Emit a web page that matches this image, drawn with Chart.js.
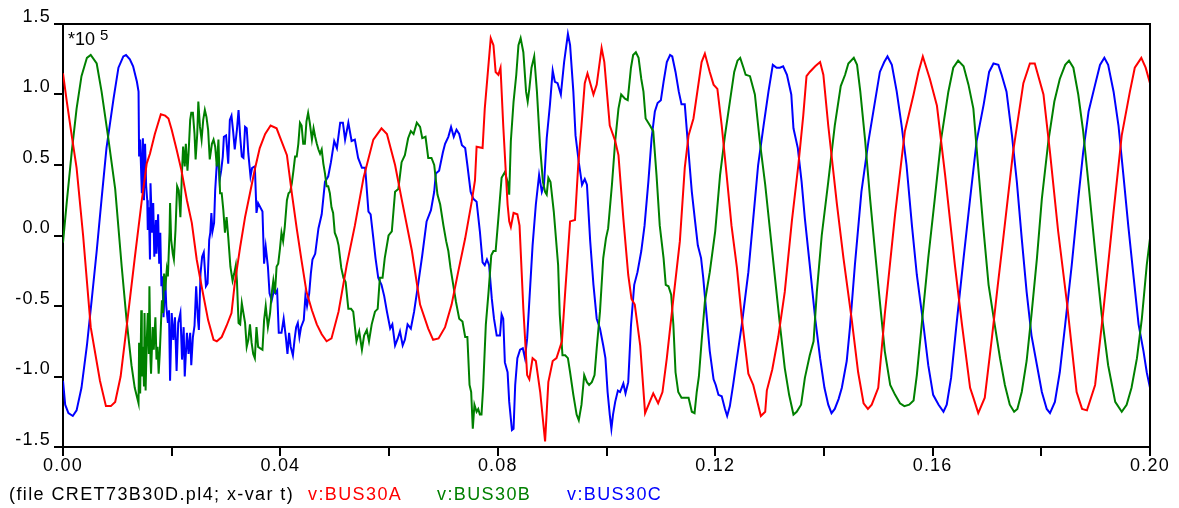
<!DOCTYPE html>
<html>
<head>
<meta charset="utf-8">
<script src="https://cdn.jsdelivr.net/npm/chart.js@4.4.0/dist/chart.umd.min.js"></script>
<style>
  html, body { margin: 0; padding: 0; background: #fff; }
  #wrap { position: relative; width: 1179px; height: 508px; }
  canvas { display: block; }
  .txt { position: absolute; font-family: "Liberation Sans", Arial, sans-serif; font-size: 18px;
         letter-spacing: 1.4px; white-space: nowrap; color: #000; line-height: 21px; }
</style>
</head>
<body>
<div id="wrap">
  <canvas id="plot" width="1179" height="508"></canvas>
  <div class="txt" style="left:68px; top:29px; letter-spacing:0;">*10<span style="position:relative; top:-5px; font-size:15px; margin-left:5px;">5</span></div>
  <div class="txt" style="left:9px; top:484px;">(file CRET73B30D.pl4; x-var t)</div>
  <div class="txt" style="left:308px; top:484px; color:#ff0000;">v:BUS30A</div>
  <div class="txt" style="left:437px; top:484px; color:#008000;">v:BUS30B</div>
  <div class="txt" style="left:567px; top:484px; color:#0000ff;">v:BUS30C</div>
</div>
<script>
// Bus voltages, [time in ms, value in units of 1e5 V]
const busA = [
  [0,1.15],[0.7,0.95],[1.6,0.71],[2.5,0.48],[3.7,0.00],[5.1,-0.65],[6.8,-1.03],[7.9,-1.21],[8.8,-1.21],[9.6,-1.18],
  [10.6,-1.00],[11.7,-0.65],[13.2,-0.16],[14.5,0.25],[15.4,0.51],[16.0,0.58],[16.9,0.72],[18.0,0.86],[18.8,0.85],[19.4,0.83],
  [20.0,0.75],[20.9,0.61],[21.8,0.46],[22.8,0.25],[23.7,0.09],[24.6,-0.17],[25.5,-0.36],[26.7,-0.60],[27.7,-0.74],[28.3,-0.75],
  [29.2,-0.72],[30.1,-0.64],[31.0,-0.55],[31.6,-0.34],[32.6,-0.08],[33.5,0.13],[34.4,0.30],[35.3,0.47],[36.2,0.62],[37.2,0.72],
  [38.2,0.78],[39.3,0.76],[39.9,0.70],[41.2,0.57],[42.1,0.30],[43.0,0.05],[43.9,-0.18],[44.8,-0.40],[45.8,-0.53],[46.7,-0.63],
  [47.6,-0.70],[48.5,-0.75],[49.4,-0.73],[50.7,-0.54],[52.2,-0.21],[53.7,0.07],[55.3,0.41],[57.1,0.68],[58.6,0.76],[59.6,0.72],
  [61.1,0.50],[62.3,0.26],[64.2,-0.11],[65.7,-0.49],[67.2,-0.66],[68.1,-0.74],[69.1,-0.73],[70.3,-0.65],[71.5,-0.49],[72.7,-0.26],
  [74.0,-0.02],[75.2,0.24],[75.8,0.39],[76.1,0.63],[77.2,0.62],[77.6,0.90],[78.7,1.40],[79.2,1.35],[79.6,1.16],[80.1,1.14],
  [80.5,1.19],[81.0,0.78],[81.8,0.22],[82.1,0.10],[82.4,0.06],[82.9,0.16],[83.6,0.15],[84.0,0.07],[84.7,-0.52],[85.4,-0.99],
  [85.8,-1.02],[86.4,-0.87],[87.0,-0.89],[87.8,-1.11],[88.7,-1.46],[89.3,-1.04],[90.1,-0.89],[90.8,-0.87],[91.8,-0.75],[92.4,-0.40],
  [93.3,0.10],[94.2,0.11],[94.8,0.50],[95.4,0.78],[96.0,1.08],[96.5,1.15],[97.6,1.00],[98.2,1.07],[99.1,1.33],[99.6,1.23],
  [100.6,0.78],[101.6,0.67],[102.2,0.57],[103.1,0.12],[104.0,-0.28],[104.6,-0.45],[105.2,-0.49],[106.2,-0.78],[107.1,-1.26],[108.6,-1.12],
  [109.5,-1.19],[110.3,-1.11],[111.1,-0.87],[112.3,-0.45],[113.5,-0.04],[114.4,0.48],[115.1,0.71],[116.0,0.83],[116.9,1.07],[117.5,1.23],
  [118.1,1.29],[119.0,1.16],[119.7,1.07],[120.4,1.04],[121.2,0.78],[122.1,0.43],[123.0,0.07],[124.0,-0.23],[124.9,-0.59],[126.1,-0.98],
  [127.0,-1.06],[128.4,-1.28],[129.2,-1.25],[129.5,-1.10],[130.5,-0.95],[131.6,-0.72],[132.8,-0.40],[134.1,0.10],[135.3,0.50],[136.2,0.85],
  [136.8,1.13],[137.4,1.16],[138.4,1.20],[139.3,1.23],[139.9,1.14],[140.8,0.78],[142.4,0.22],[143.6,-0.16],[145.1,-0.59],[146.3,-0.97],
  [147.3,-1.19],[148.1,-1.23],[148.8,-1.20],[150.0,-1.08],[151.2,-0.56],[153.1,0.15],[154.9,0.74],[156.5,1.00],[157.4,1.16],[158.2,1.27],
  [159.5,1.11],[160.8,0.92],[162.3,0.43],[164.1,-0.21],[165.4,-0.63],[166.9,-1.08],[167.5,-1.15],[168.4,-1.26],[169.6,-1.15],[170.9,-0.73],
  [172.0,-0.35],[173.0,-0.02],[174.8,0.59],[176.7,1.08],[177.9,1.22],[178.8,1.22],[180.4,1.00],[181.6,0.59],[183.1,0.03],[184.7,-0.47],
  [186.5,-1.11],[187.5,-1.23],[188.4,-1.24],[189.9,-1.06],[191.4,-0.54],[193.3,0.17],[194.8,0.71],[196.3,1.02],[197.2,1.19],[198.4,1.26],
  [199.2,1.19],[200.0,1.08]
];

const busB = [
  [0,-0.05],[0.7,0.24],[1.6,0.59],[2.5,0.90],[3.4,1.13],[4.4,1.26],[5.1,1.28],[6.2,1.22],[7.1,1.02],[8.3,0.70],
  [9.6,0.33],[10.8,-0.22],[11.7,-0.60],[12.6,-0.92],[13.2,-1.08],[13.9,-1.19],[14.0,-0.76],[14.2,-1.12],[14.4,-0.53],[14.5,-1.00],
  [14.7,-0.79],[14.9,-1.07],[15.0,-0.55],[15.2,-1.10],[15.4,-0.76],[15.6,-0.55],[15.8,-0.84],[15.9,-0.36],[16.1,-0.88],[16.2,-0.98],
  [16.5,-0.65],[16.7,-0.81],[17.0,-0.58],[17.2,-0.88],[17.4,-0.79],[17.6,-0.98],[17.8,-0.84],[18.0,-0.65],[18.2,-0.46],[18.4,-0.55],
  [18.6,-0.27],[18.8,-0.39],[19.1,-0.24],[19.3,-0.29],[19.6,0.02],[19.7,0.23],[19.9,-0.03],[20.2,-0.13],[20.4,-0.17],[20.7,0.04],
  [21.0,0.35],[21.3,0.32],[21.6,0.13],[21.9,0.46],[22.1,0.63],[22.4,0.49],[22.6,0.65],[22.9,0.46],[23.1,0.58],[23.4,0.82],
  [23.6,0.87],[23.9,0.87],[24.2,0.72],[24.4,0.54],[24.7,0.72],[24.9,0.95],[25.2,0.77],[25.5,0.68],[25.8,0.82],[26.1,0.89],
  [26.4,0.84],[26.7,0.75],[27.0,0.54],[27.4,0.65],[27.7,0.68],[28.0,0.63],[28.3,0.49],[28.6,0.68],[28.9,0.30],[29.2,0.30],
  [29.5,0.18],[29.8,0.02],[30.1,0.13],[30.4,-0.01],[30.8,-0.22],[31.2,-0.32],[31.5,-0.27],[31.8,-0.21],[32.0,-0.32],[32.3,-0.62],
  [32.6,-0.63],[32.9,-0.48],[33.2,-0.55],[33.5,-0.62],[33.8,-0.79],[34.1,-0.74],[34.4,-0.63],[34.7,-0.76],[35.0,-0.84],[35.3,-0.87],
  [35.6,-0.65],[35.9,-0.79],[36.3,-0.80],[36.7,-0.81],[37.0,-0.60],[37.3,-0.50],[37.7,-0.65],[38.1,-0.55],[38.4,-0.41],[38.7,-0.32],
  [39.0,-0.41],[39.3,-0.22],[39.6,-0.20],[39.9,-0.10],[40.2,0.02],[40.5,-0.04],[40.8,0.06],[41.2,0.25],[41.5,0.30],[41.8,0.31],
  [42.1,0.37],[42.4,0.46],[42.7,0.56],[43.0,0.56],[43.3,0.65],[43.6,0.80],[43.9,0.78],[44.2,0.65],[44.5,0.65],[44.8,0.81],
  [45.1,0.87],[45.4,0.80],[45.8,0.68],[46.1,0.76],[46.4,0.70],[46.7,0.65],[47.0,0.61],[47.3,0.58],[47.6,0.61],[47.9,0.51],
  [48.2,0.44],[48.5,0.35],[48.8,0.35],[49.1,0.30],[49.4,0.20],[49.7,0.16],[50.0,0.02],[50.4,-0.02],[50.7,-0.07],[51.2,-0.23],
  [51.6,-0.30],[52.0,-0.33],[52.5,-0.52],[53.0,-0.52],[53.4,-0.54],[54.0,-0.75],[54.5,-0.68],[55.0,-0.81],[55.4,-0.71],[55.9,-0.67],
  [56.3,-0.75],[56.8,-0.63],[57.4,-0.54],[57.9,-0.52],[58.3,-0.30],[58.8,-0.30],[59.2,-0.16],[59.9,0.00],[60.5,0.03],[61.1,0.31],
  [61.7,0.33],[62.3,0.52],[62.9,0.57],[63.5,0.69],[64.0,0.74],[64.5,0.72],[65.1,0.80],[65.7,0.77],[66.1,0.69],[66.7,0.70],
  [67.2,0.55],[67.8,0.55],[68.3,0.50],[68.9,0.29],[69.4,0.22],[70.0,0.07],[70.5,-0.04],[70.9,-0.11],[71.3,-0.23],[71.8,-0.35],
  [72.3,-0.47],[72.9,-0.59],[73.5,-0.61],[74.0,-0.72],[74.4,-0.72],[74.8,-1.06],[75.1,-1.11],[75.4,-1.37],[75.7,-1.20],[76.1,-1.25],
  [76.4,-1.23],[76.7,-1.27],[77.0,-1.27],[77.3,-1.08],[77.8,-0.63],[78.3,-0.40],[78.8,-0.14],[79.2,-0.11],[79.6,-0.11],[80.1,0.12],
  [80.7,0.41],[81.3,0.45],[81.8,0.38],[82.1,0.29],[82.4,0.67],[82.9,0.95],[83.4,1.14],[83.8,1.35],[84.2,1.40],[84.7,1.30],
  [85.2,1.02],[85.5,0.95],[85.8,1.04],[86.2,1.19],[86.7,1.27],[87.2,1.02],[87.8,0.62],[88.3,0.38],[88.7,0.31],[89.0,0.29],
  [89.3,0.41],[89.7,0.38],[90.3,0.17],[91.1,-0.21],[91.4,-0.56],[91.9,-0.85],[92.4,-0.85],[92.9,-0.87],[93.3,-0.97],[93.9,-1.13],
  [94.5,-1.27],[94.9,-1.31],[95.4,-1.20],[95.9,-0.99],[96.4,-1.04],[96.8,-1.06],[97.3,-1.04],[97.8,-0.99],[98.2,-0.80],[98.8,-0.54],
  [99.4,-0.16],[99.9,-0.02],[100.3,0.05],[101.0,0.36],[101.6,0.67],[102.2,0.90],[102.7,1.00],[103.4,0.97],[103.9,0.96],[104.5,1.19],
  [104.9,1.28],[105.4,1.30],[105.9,1.26],[106.4,1.11],[106.8,1.02],[107.2,0.83],[108.0,0.78],[108.6,0.74],[109.2,0.43],[109.8,0.07],
  [110.5,-0.16],[110.9,-0.35],[111.4,-0.36],[111.9,-0.42],[112.3,-0.63],[112.7,-0.97],[113.2,-1.11],[113.8,-1.15],[114.4,-1.15],[115.1,-1.15],
  [115.7,-1.25],[116.2,-1.26],[116.6,-1.11],[117.0,-1.00],[117.5,-0.75],[118.1,-0.47],[119.0,-0.26],[120.0,0.03],[120.9,0.43],[121.8,0.71],
  [122.7,0.95],[123.5,1.16],[124.1,1.24],[124.6,1.26],[125.2,1.19],[125.6,1.14],[126.4,1.13],[127.3,1.00],[128.2,0.67],[129.2,0.36],
  [130.1,0.03],[131.0,-0.30],[131.9,-0.63],[132.8,-0.94],[133.6,-1.13],[134.4,-1.27],[135.0,-1.25],[135.8,-1.20],[136.5,-1.01],[137.4,-0.85],
  [138.1,-0.75],[138.7,-0.40],[139.6,0.00],[140.8,0.38],[142.0,0.78],[143.1,1.06],[143.9,1.14],[144.5,1.22],[145.5,1.26],[146.1,1.21],
  [146.7,1.02],[147.6,0.67],[148.5,0.26],[149.4,-0.11],[150.3,-0.47],[151.2,-0.82],[152.2,-1.06],[153.1,-1.13],[154.0,-1.19],[154.8,-1.21],
  [155.7,-1.20],[156.5,-1.17],[157.1,-0.99],[158.0,-0.63],[159.2,-0.16],[160.4,0.26],[161.6,0.69],[162.9,1.02],[163.8,1.19],[164.7,1.24],
  [165.7,1.20],[166.6,1.07],[167.5,0.90],[168.4,0.48],[169.3,0.07],[170.3,-0.35],[171.5,-0.65],[172.4,-0.87],[173.3,-1.06],[174.2,-1.20],
  [175.0,-1.25],[175.6,-1.23],[176.4,-1.11],[177.3,-0.89],[178.2,-0.56],[179.2,-0.16],[180.1,0.26],[181.3,0.67],[182.4,0.95],[183.4,1.11],
  [184.4,1.21],[185.1,1.24],[185.9,1.19],[186.8,1.00],[187.7,0.74],[188.7,0.36],[189.9,-0.11],[191.1,-0.56],[192.3,-0.92],[193.6,-1.18],
  [194.8,-1.25],[195.7,-1.20],[196.6,-1.08],[197.6,-0.87],[198.5,-0.59],[199.4,-0.21],[200.0,-0.02]
];

const busC = [
  [0,-1.03],[0.4,-1.20],[1.0,-1.26],[1.8,-1.28],[2.5,-1.24],[3.4,-1.08],[4.4,-0.78],[5.3,-0.45],[6.2,-0.11],[7.1,0.26],
  [8.0,0.62],[9.3,0.97],[10.2,1.19],[11.1,1.27],[11.6,1.28],[12.3,1.25],[12.9,1.20],[13.6,1.09],[13.9,1.02],[14.0,0.56],
  [14.2,0.68],[14.5,0.30],[14.7,0.69],[14.9,0.25],[15.1,0.65],[15.3,0.35],[15.5,0.25],[15.6,0.04],[15.8,0.20],[16.0,-0.17],
  [16.1,0.37],[16.4,0.02],[16.6,0.23],[16.8,-0.15],[17.1,0.11],[17.2,-0.13],[17.5,0.15],[17.7,-0.20],[17.9,0.02],[18.1,-0.36],
  [18.3,-0.29],[18.5,-0.58],[18.8,-0.29],[19.0,-0.50],[19.3,-0.62],[19.5,-0.53],[19.7,-1.03],[20.0,-0.55],[20.3,-0.74],[20.6,-0.58],
  [20.9,-0.96],[21.2,-0.62],[21.6,-0.55],[21.9,-0.88],[22.2,-0.65],[22.4,-1.00],[22.8,-0.69],[23.1,-0.84],[23.4,-0.69],[23.6,-0.92],
  [23.9,-0.72],[24.2,-0.64],[24.5,-0.36],[24.8,-0.58],[25.0,-0.67],[25.3,-0.27],[25.6,-0.15],[25.9,-0.12],[26.3,-0.36],[26.6,-0.34],
  [26.9,-0.03],[27.1,0.02],[27.3,0.16],[27.5,0.03],[27.8,0.09],[28.0,0.32],[28.3,0.51],[28.6,0.52],[28.8,0.39],[29.1,0.46],
  [29.4,0.56],[29.6,0.70],[30.0,0.71],[30.4,0.51],[30.7,0.82],[31.0,0.85],[31.3,0.74],[31.6,0.61],[32.0,0.75],[32.3,0.89],
  [32.6,0.70],[32.9,0.56],[33.2,0.55],[33.5,0.77],[33.8,0.76],[34.1,0.58],[34.5,0.42],[34.8,0.48],[35.3,0.49],[35.6,0.16],
  [35.9,0.23],[36.7,0.17],[37.0,-0.20],[37.3,-0.08],[37.7,-0.22],[38.0,-0.41],[38.4,-0.46],[38.8,-0.39],[39.1,-0.41],[39.4,-0.39],
  [39.7,-0.69],[40.2,-0.69],[40.6,-0.59],[41.0,-0.72],[41.3,-0.84],[41.6,-0.69],[41.9,-0.79],[42.3,-0.85],[42.6,-0.74],[42.9,-0.65],
  [43.2,-0.62],[43.5,-0.72],[43.8,-0.65],[44.3,-0.60],[44.6,-0.43],[44.9,-0.50],[45.3,-0.41],[45.6,-0.27],[45.9,-0.17],[46.4,-0.13],
  [47.0,0.05],[47.6,0.15],[48.2,0.38],[48.8,0.42],[49.3,0.52],[49.9,0.67],[50.4,0.62],[51.0,0.80],[51.5,0.80],[51.9,0.68],
  [52.5,0.80],[53.1,0.67],[53.7,0.68],[54.3,0.55],[55.0,0.48],[55.6,0.48],[56.2,0.17],[56.6,0.15],[57.1,-0.02],[57.5,-0.16],
  [58.0,-0.30],[58.6,-0.35],[59.1,-0.43],[59.6,-0.54],[60.2,-0.66],[60.6,-0.63],[61.1,-0.78],[61.6,-0.73],[62.0,-0.68],[62.5,-0.78],
  [62.9,-0.74],[63.4,-0.63],[64.0,-0.66],[64.6,-0.54],[65.4,-0.33],[66.1,-0.14],[66.9,0.10],[67.7,0.18],[68.3,0.31],[68.6,0.44],
  [69.2,0.46],[69.9,0.59],[70.3,0.65],[70.9,0.70],[71.4,0.77],[71.9,0.70],[72.4,0.75],[72.9,0.72],[73.4,0.64],[74.0,0.62],
  [74.4,0.50],[75.0,0.31],[75.5,0.26],[76.1,0.24],[76.7,0.03],[77.2,-0.19],[77.6,-0.21],[78.0,-0.17],[78.4,-0.21],[78.9,-0.45],
  [79.3,-0.59],[79.8,-0.71],[80.4,-0.71],[80.7,-0.56],[81.0,-0.59],[81.3,-0.90],[81.8,-0.97],[82.1,-1.18],[82.6,-1.38],[82.9,-1.37],
  [83.2,-1.06],[83.6,-0.87],[84.1,-0.81],[84.6,-0.80],[85.0,-0.87],[85.4,-0.73],[85.9,-0.40],[86.4,-0.07],[87.0,0.22],[87.6,0.43],
  [88.1,0.31],[88.5,0.36],[89.0,0.69],[89.6,0.93],[90.1,1.17],[90.5,1.09],[91.0,1.08],[91.6,1.00],[92.2,1.23],[92.9,1.43],
  [93.3,1.35],[93.9,1.02],[94.3,0.71],[94.9,0.52],[95.5,0.36],[96.0,0.40],[96.4,0.36],[97.0,-0.04],[97.6,-0.35],[98.2,-0.59],
  [98.8,-0.66],[99.4,-0.78],[99.8,-0.87],[100.2,-1.11],[100.6,-1.27],[100.9,-1.37],[101.2,-1.27],[101.6,-1.18],[102.1,-1.10],[102.5,-1.11],
  [103.1,-1.05],[103.5,-1.12],[104.0,-1.04],[104.5,-0.64],[105.1,-0.35],[105.7,-0.26],[106.4,-0.11],[107.0,0.07],[107.7,0.38],[108.3,0.69],
  [108.9,0.88],[109.4,0.94],[110.0,0.96],[110.5,1.09],[111.1,1.23],[111.7,1.28],[112.1,1.27],[112.7,1.16],[113.3,1.02],[113.8,0.93],
  [114.4,0.93],[115.1,0.59],[115.7,0.31],[116.3,0.10],[116.8,-0.07],[117.4,-0.16],[117.8,-0.30],[118.4,-0.56],[119.0,-0.82],[119.7,-1.02],
  [120.1,-1.06],[120.6,-1.13],[121.2,-1.14],[121.8,-1.23],[122.2,-1.28],[122.7,-1.21],[123.3,-1.06],[124.0,-0.87],[124.9,-0.63],[126.1,-0.26],
  [127.0,0.12],[127.9,0.50],[128.9,0.78],[129.8,1.02],[130.6,1.21],[131.3,1.19],[131.9,1.19],[132.5,1.20],[133.2,1.14],[134.0,1.00],
  [134.4,0.76],[135.2,0.62],[135.9,0.38],[136.5,0.12],[137.4,-0.21],[138.4,-0.59],[139.3,-0.87],[140.1,-1.08],[140.8,-1.20],[141.4,-1.26],
  [142.0,-1.23],[142.7,-1.16],[143.3,-1.08],[144.2,-0.89],[144.8,-0.65],[145.7,-0.21],[146.9,0.31],[148.2,0.67],[149.1,0.88],[150.3,1.16],
  [151.1,1.23],[151.7,1.27],[152.5,1.21],[153.4,1.02],[154.3,0.78],[155.2,0.50],[156.2,0.07],[157.1,-0.28],[158.3,-0.63],[159.2,-0.92],
  [160.1,-1.13],[161.1,-1.20],[162.0,-1.25],[162.6,-1.20],[163.4,-1.01],[164.4,-0.63],[165.7,-0.16],[166.9,0.26],[168.1,0.67],[169.4,0.93],
  [170.4,1.16],[171.2,1.22],[172.1,1.21],[172.7,1.14],[173.6,1.02],[174.6,0.71],[175.5,0.38],[176.4,-0.02],[177.3,-0.40],[178.2,-0.71],
  [179.2,-0.92],[180.1,-1.11],[181.0,-1.23],[181.6,-1.26],[182.5,-1.18],[183.4,-0.97],[184.4,-0.63],[185.6,-0.21],[186.8,0.26],[187.7,0.59],
  [188.7,0.88],[189.9,1.07],[190.8,1.21],[191.6,1.26],[192.3,1.21],[193.3,1.02],[194.2,0.78],[195.1,0.43],[196.0,0.07],[197.0,-0.30],
  [197.9,-0.63],[198.8,-0.82],[199.4,-0.97],[200.0,-1.08]
];

const seriesNames = ['v:BUS30A', 'v:BUS30B', 'v:BUS30C'];
const seriesColors = ['#ff0000', '#008000', '#0000ff'];

const FONT = { family: '"Liberation Sans", Arial, sans-serif', size: 18, lineHeight: 1.1 };

// ms -> s for the time axis
function toPoints(rows) {
  return rows.map((r) => ({ x: r[0] / 1000, y: r[1] }));
}

// wider glyph spacing for the tick labels, plus the top/right edges of the frame
const framePlugin = {
  id: 'frame',
  beforeDraw(chart) {
    chart.ctx.letterSpacing = '1.2px';
  },
  afterDatasetsDraw(chart) {
    const { ctx, chartArea: a } = chart;
    ctx.save();
    ctx.strokeStyle = '#000';
    ctx.lineWidth = 2;
    ctx.beginPath();
    ctx.moveTo(a.left, a.top);
    ctx.lineTo(a.right, a.top);
    ctx.lineTo(a.right, a.bottom);
    ctx.stroke();
    ctx.restore();
  },
};

new Chart(document.getElementById('plot').getContext('2d'), {
  type: 'line',
  data: {
    datasets: [busA, busB, busC].map((rows, i) => ({
      label: seriesNames[i],
      data: toPoints(rows),
      borderColor: seriesColors[i],
      borderWidth: 2,
      pointRadius: 0,
      tension: 0,
      fill: false,
    })),
  },
  options: {
    responsive: false,
    animation: false,
    devicePixelRatio: 1,
    layout: { padding: { top: 24, right: 29, left: 0, bottom: 0 } },
    plugins: { legend: { display: false }, tooltip: { enabled: false } },
    scales: {
      x: {
        type: 'linear',
        min: 0,
        max: 0.2,
        grid: { drawOnChartArea: false, tickLength: 9, color: '#000', lineWidth: 2 },
        border: { color: '#000', width: 2 },
        ticks: {
          stepSize: 0.02,
          autoSkip: false,
          maxRotation: 0,
          padding: 0,
          color: '#000',
          font: FONT,
          callback: (v, i) => (i % 2 === 0 ? v.toFixed(2) : ''),
        },
        afterFit: (s) => { s.height = 61; },
      },
      y: {
        min: -1.5,
        max: 1.5,
        grid: { drawOnChartArea: false, tickLength: 9, color: '#000', lineWidth: 2 },
        border: { color: '#000', width: 2 },
        ticks: {
          stepSize: 0.5,
          padding: 3,
          labelOffset: -7,
          color: '#000',
          font: FONT,
          callback: (v) => v.toFixed(1),
        },
        afterFit: (s) => { s.width = 63; },
      },
    },
  },
  plugins: [framePlugin],
});
</script>
</body>
</html>
